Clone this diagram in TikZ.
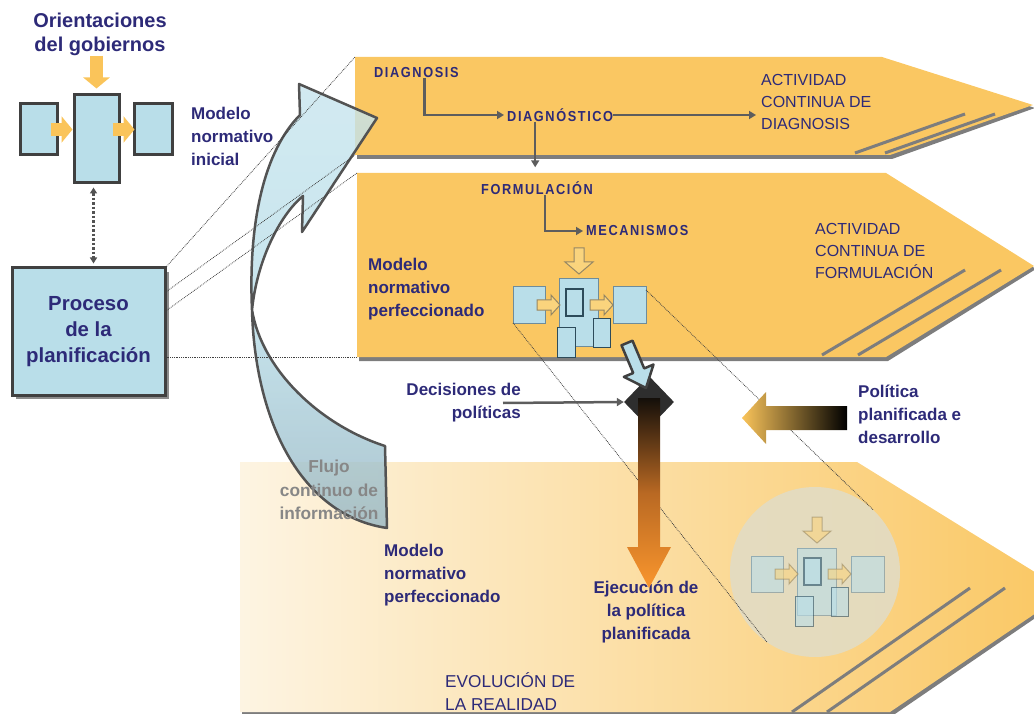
\documentclass[tikz,border=0pt]{standalone}
\usepackage{fontspec}
\setmainfont{Liberation Sans}
\newfontfamily\narrowfont[FakeStretch=0.88,LetterSpace=11]{Liberation Sans}
\usetikzlibrary{calc,shapes.geometric,shadows,arrows.meta}

\definecolor{navy}{RGB}{45,42,120}
\definecolor{chev}{RGB}{250,199,98}
\definecolor{chevlight}{RGB}{253,244,226}
\definecolor{boxblue}{RGB}{185,222,233}
\definecolor{edgegray}{RGB}{64,64,64}
\definecolor{shadowgray}{RGB}{125,125,125}
\definecolor{arrowyel}{RGB}{250,196,90}
\definecolor{flowgray}{RGB}{135,135,135}
\definecolor{hollowfill}{RGB}{250,212,125}
\definecolor{hollowedge}{RGB}{150,135,100}
\definecolor{miniedge}{RGB}{110,140,155}
\definecolor{miniinner}{RGB}{45,75,90}
\definecolor{tailblue}{RGB}{150,182,195}
\definecolor{execorange}{RGB}{250,150,45}
\definecolor{execbrown}{RGB}{185,105,35}

\tikzset{
  lbl/.style={text=navy, font=\bfseries\fontsize{17}{23}\selectfont, align=left, inner sep=0pt},
  caps/.style={text=navy, font=\fontsize{16}{22}\selectfont, align=left, inner sep=0pt},
  tag/.style={text=navy, font=\narrowfont\bfseries\fontsize{14.5}{16}\selectfont, inner sep=0pt},
  flow/.style={draw=edgegray!85, line width=2.5pt, -{Triangle[length=7pt,width=8pt]}},
  fat/.style={draw=arrowyel, line width=13pt, -{Triangle[length=11pt,width=26pt]}},
  blk/.style={draw=edgegray, line width=3pt, fill=boxblue, inner sep=0pt},
  mini/.style={draw=miniedge, line width=1pt, fill=boxblue},
  hollow/.style={draw=hollowedge, line width=1pt, fill=hollowfill},
  link/.style={draw=black!75, line width=0.8pt, densely dotted},
  stripe/.style={draw=shadowgray, line width=3pt},
  pics/minimodel/.style={code={
    \draw[hollow] (15,-31) -- (25,-31) -- (25,-17) -- (34,-17) -- (20,-5) -- (6,-17) -- (15,-17) -- cycle;
    \draw[mini] (0,0) rectangle (39,67);
    \draw[mini] (-46,8) rectangle (-14,44);
    \draw[mini] (54,8) rectangle (87,44);
    \draw[hollow] (-22,21) -- (-8,21) -- (-8,16) -- (1,26) -- (-8,36) -- (-8,31) -- (-22,31) -- cycle;
    \draw[hollow] (31,21) -- (45,21) -- (45,16) -- (54,26) -- (45,36) -- (45,31) -- (31,31) -- cycle;
    \draw[mini, draw=miniinner, line width=1.3pt] (7,10) rectangle (24,37);
    \draw[mini, draw=miniinner] (-2,48) rectangle (16,78);
    \draw[mini, draw=miniinner] (34,39) rectangle (51,68);
    \coordinate (-lb) at (-46,44);
    \coordinate (-rt) at (87,11);
  }}
}

\begin{document}
\begin{tikzpicture}[x=1pt,y=-1pt]
%%%%% START %%%%%
\useasboundingbox (0,0) rectangle (1034,714);
\clip (0,0) rectangle (1034,714);

% evolucion de la realidad
\fill[shadowgray] (242,465) -- (859,465) -- (1069,595) -- (892,716) -- (242,716) -- cycle;
\shade[left color=chevlight, right color=chev] (240,462) -- (857,462) -- (1067,592) -- (890,712) -- (240,712) -- cycle;
\draw[stripe] (792,712) -- (970,588);
\draw[stripe] (827,712) -- (1005,588);

% diagnosis
\fill[shadowgray] (357,60) -- (884,60) -- (1035,108) -- (892,159) -- (357,159) -- cycle;
\fill[chev] (355,57) -- (882,57) -- (1033,105) -- (890,155) -- (355,155) -- cycle;
\draw[stripe] (855,153) -- (965,114);
\draw[stripe] (885,153) -- (995,114);
\coordinate (c1nw) at (355,57);
\coordinate (c1sw) at (355,155);

% formulacion
\fill[shadowgray] (359,176) -- (888,176) -- (1036,269) -- (888,361) -- (359,361) -- cycle;
\fill[chev] (357,173) -- (886,173) -- (1034,266) -- (886,357) -- (357,357) -- cycle;
\draw[stripe] (822,355) -- (965,270);
\draw[stripe] (858,355) -- (1001,270);
\coordinate (c2nw) at (357,173);
\coordinate (c2sw) at (357,357);

% modelo en la realidad
\node[circle, fill={rgb,255:red,226;green,220;blue,196}, fill opacity=0.9, minimum size=170pt] (zoomc) at (815,572) {};
\pic[opacity=0.6] (m2) at (797,548) {minimodel};
\pic (m1) at (559,279) {minimodel};

% textos
\node[tag, anchor=west] (diagnosis) at (374,73) {DIAGNOSIS};
\node[tag, anchor=west] (diagnostico) at (507,115) {DIAGNÓSTICO};
\node[caps, anchor=west] (actdiag) at (761,102) {ACTIVIDAD\\CONTINUA DE\\DIAGNOSIS};
\node[tag, anchor=west] (formulacion) at (481,188) {FORMULACIÓN};
\node[tag, anchor=west] (mecanismos) at (586,231) {MECANISMOS};
\node[caps, anchor=west] (actform) at (815,251) {ACTIVIDAD\\CONTINUA DE\\FORMULACIÓN};
\node[lbl, anchor=west] (modperf) at (368,289) {Modelo\\normativo\\perfeccionado};
\node[lbl, anchor=west] (modini) at (191,136) {Modelo\\normativo\\inicial};
\node[lbl, anchor=east, align=right] (decis) at (521,403) {Decisiones de\\políticas};
\node[lbl, anchor=west] (polit) at (858,414) {Política\\planificada e\\desarrollo};
\node[lbl, anchor=west] (modreal) at (384,575) {Modelo\\normativo\\perfeccionado};
\node[lbl, align=center] (ejec) at (646,612) {Ejecución de\\la política\\planificada};
\node[caps, anchor=west, font=\fontsize{17.2}{23}\selectfont] (evol) at (445,692) {EVOLUCIÓN DE\\LA REALIDAD};

\draw[flow, shorten >=3pt] ([xshift=8pt]diagnosis.south) |- (diagnostico.west);
\draw[flow, shorten >=5pt] (diagnostico.east) -- (diagnostico.east -| actdiag.west);
\draw[flow, shorten >=14pt] ([xshift=-25pt]diagnostico.south) -- ([xshift=-25pt]diagnostico.south |- formulacion.north);
\draw[flow, shorten >=3pt] ([xshift=8pt]formulacion.south) |- (mecanismos.west);

% lineas de proyeccion
\draw[link] (m1-lb) -- (zoomc.236);
\draw[link] (m1-rt) -- (zoomc.47);

% decision y ejecucion
\node[diamond, fill=black!82, minimum width=50pt, minimum height=52pt, inner sep=0pt] (dec) at (649,402) {};
\draw[flow] ([xshift=-18pt]decis.east) -- (dec.west);
\shade[top color={rgb,255:red,20;green,15;blue,10}, bottom color=execorange, middle color=execbrown]
  (638,398) -- (660,398) -- (660,547) -- (671,547) -- (649,588) -- (627,547) -- (638,547) -- cycle;
\draw[draw=edgegray, line width=2.5pt, fill=boxblue, line join=round]
  (621.5,345.3) -- (633.2,373.0) -- (623.9,376.9) -- (646,388) -- (653.5,364.5) -- (644.2,368.4) -- (632.5,340.7) -- cycle;
\shade[left color=arrowyel, right color=black]
  (742,418) -- (766,392) -- (766,406) -- (847,406) -- (847,430) -- (766,430) -- (766,444) -- cycle;

% modelo normativo inicial
\node[text=navy, font=\bfseries\fontsize{20}{24}\selectfont, align=center, inner sep=0pt] (orient) at (100,34) {Orientaciones\\del gobiernos};
\node[blk, minimum width=37pt, minimum height=51pt] (topl) at (38.5,129.5) {};
\node[blk, minimum width=45pt, minimum height=88pt] (topc) at (96.5,139) {};
\node[blk, minimum width=38pt, minimum height=51pt] (topr) at (153,129.5) {};
\draw[fat, shorten >=5pt] (orient.south -| topc.north) -- (topc.north);
\draw[fat] ([xshift=-8pt]topl.east) -- (topl.east -| topc.west);
\draw[fat] ([xshift=-8pt]topc.east |- topr.west) -- ([xshift=2pt]topr.west);
\node[blk, minimum width=153pt, minimum height=127pt, text=navy, align=center,
  font=\bfseries\fontsize{20.4}{26}\selectfont,
  drop shadow={shadow xshift=4pt, shadow yshift=-4pt, fill=black!45, opacity=1}] (proceso) at (88.5,331.5) {Proceso\\de la\\planificación};
\draw[draw=edgegray!90, line width=2.5pt, dotted, {Triangle[length=6pt,width=7pt]}-{Triangle[length=6pt,width=7pt]}, shorten <=3pt, shorten >=3pt]
  ([xshift=-3pt]topc.south) -- ([xshift=-3pt]topc.south |- proceso.north);

% flujo continuo
\shadedraw[draw=edgegray!90, line width=2.5pt, top color=boxblue!80!white, bottom color=tailblue, middle color=boxblue, fill opacity=0.8, line join=round]
  (299,84) -- (377,118) -- (302,232) -- (303,196) .. controls (280,215) and (257,260) .. (252,310)
  .. controls (262,370) and (320,425) .. (385,446) -- (387,528)
  .. controls (300,515) and (255,420) .. (252,310)
  .. controls (248,220) and (265,150) .. (300,115) -- cycle;
\node[text=flowgray, font=\bfseries\fontsize{17.3}{23.5}\selectfont, align=center, inner sep=0pt] (flujo) at (329,490) {Flujo\\continuo de\\información};

\draw[link] (proceso.north east) -- (c1nw);
\draw[link] ([yshift=-25pt]proceso.north east) -- (c1sw);
\draw[link] ([yshift=-44pt]proceso.north east) -- (c2nw);
\draw[link] (proceso.east |- c2sw) -- (c2sw);

%%%%% END %%%%%
\end{tikzpicture}
\end{document}
